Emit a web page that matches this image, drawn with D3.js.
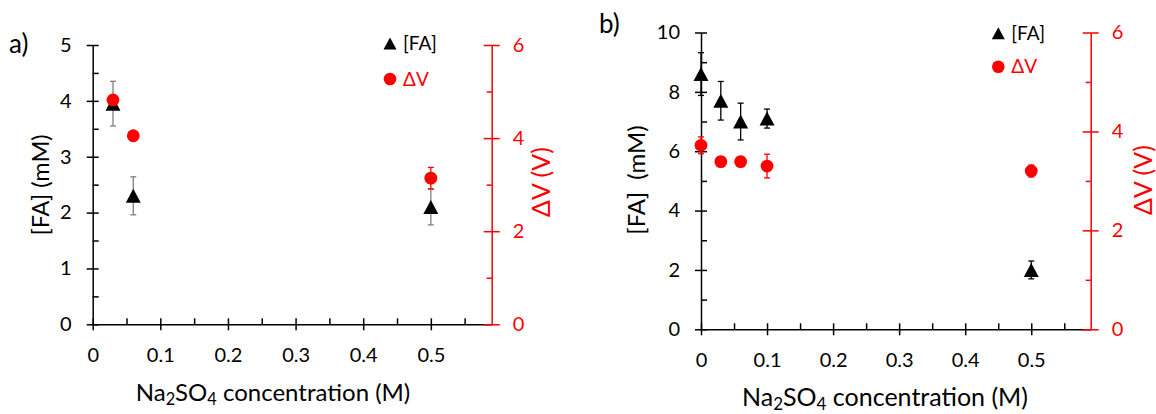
<!DOCTYPE html>
<html><head><meta charset="utf-8">
<script src="https://cdn.jsdelivr.net/npm/d3@7"></script>
<style>
body{margin:0;background:#fff;}
text{font-family:Lato, "Open Sans", sans-serif;}
</style></head>
<body><svg id="c" width="1156" height="414"></svg>
<script>
// ---- data ----
const xTickValues = [0, 0.1, 0.2, 0.3, 0.4, 0.5];
const xTickLabels = ["0", "0.1", "0.2", "0.3", "0.4", "0.5"];
const aLeftTicks = [0, 1, 2, 3, 4, 5];
const bLeftTicks = [0, 2, 4, 6, 8, 10];
const rightTicks = [0, 2, 4, 6];

const aConc = [0.03, 0.06, 0.5];
const aFA = [3.95, 2.3, 2.1];
const aFAerr = [0.4, 0.34, 0.32];
const aDV = [4.82, 4.05, 3.14];
const aDVerr = [0, 0, 0.23];

const bConc = [0, 0.03, 0.06, 0.1, 0.5];
const bFA = [8.6, 7.7, 7.0, 7.1, 2.0];
const bFAerr = [0.72, 0.65, 0.62, 0.32, 0.3];
const bDV = [3.72, 3.39, 3.39, 3.30, 3.20];
const bDVerr = [0.17, 0.1, 0.05, 0.24, 0.12];

const RED = "#ff0000";
const svg = d3.select("#c");
const triPath = "M0,-7L7.5,7L-7.5,7Z";
const fmt = d3.format("d");

function panel(o) {
  const g = svg.append("g");
  const x = d3.scaleLinear().domain([0, 0.59]).range([o.x0, o.x1]);
  const yL = d3.scaleLinear().domain([0, o.yLMax]).range([o.yb, o.yt]);
  const yR = d3.scaleLinear().domain([0, 6]).range([o.yb, o.yt]);

  const minorX = d3.range(0.05, 0.59, 0.1);
  const minorL = d3.range(o.yLMinorStep, o.yLMax, o.yLMinorStep * 2);
  const minorR = [1, 3, 5];

  // x axis
  const gx = g.append("g").attr("transform", `translate(0,${o.yb})`)
    .call(d3.axisBottom(x).tickValues(xTickValues).tickFormat((d, i) => xTickLabels[i])
      .tickSize(6).tickSizeOuter(0).tickPadding(18));
  gx.selectAll(".tick line").attr("y1", -6);
  g.append("g").attr("transform", `translate(0,${o.yb})`)
    .call(d3.axisBottom(x).tickValues(minorX).tickFormat("").tickSize(-6).tickSizeOuter(0))
    .select(".domain").remove();

  // left axis
  const gl = g.append("g").attr("transform", `translate(${o.x0},0)`)
    .call(d3.axisLeft(yL).tickValues(o.leftTicks).tickFormat(fmt).tickSize(6).tickSizeOuter(0).tickPadding(15));
  gl.selectAll(".tick line").attr("x1", 6);
  g.append("g").attr("transform", `translate(${o.x0},0)`)
    .call(d3.axisLeft(yL).tickValues(minorL).tickFormat("").tickSize(-6).tickSizeOuter(0))
    .select(".domain").remove();

  // right axis
  const gr = g.append("g").attr("transform", `translate(${o.x1},0)`)
    .call(d3.axisRight(yR).tickValues(rightTicks).tickFormat(fmt).tickSize(8).tickSizeOuter(0).tickPadding(13));
  gr.selectAll(".tick line").attr("x1", -8);
  const grm = g.append("g").attr("transform", `translate(${o.x1},0)`)
    .call(d3.axisRight(yR).tickValues(minorR).tickFormat("").tickSize(-5).tickSizeOuter(0));
  grm.select(".domain").remove();

  g.selectAll(".domain, .tick line").attr("stroke-width", 1.5).attr("stroke", "#000");
  gr.selectAll(".domain, .tick line").attr("stroke", RED);
  grm.selectAll(".tick line").attr("stroke", RED);
  g.selectAll(".tick text").attr("font-size", 20).attr("font-family", "Lato").attr("fill", "#000");
  gr.selectAll(".tick text").attr("fill", RED);

  const pts = o.conc.map((c, i) => ({c, v: o.fa[i], e: o.faErr[i], dv: o.dv[i], de: o.dvErr[i]}));
  const eb = (sel, yS, key, ekey, col) => {
    const gg = sel.append("g").attr("stroke", col).attr("stroke-width", 1.3);
    pts.filter(d => d[ekey] > 0).forEach(d => {
      const cx = x(d.c), t = yS(d[key] + d[ekey]), b = yS(d[key] - d[ekey]);
      gg.append("line").attr("x1", cx).attr("x2", cx).attr("y1", t).attr("y2", b);
      gg.append("line").attr("x1", cx - 3).attr("x2", cx + 3).attr("y1", t).attr("y2", t);
      gg.append("line").attr("x1", cx - 3).attr("x2", cx + 3).attr("y1", b).attr("y2", b);
    });
  };
  eb(g, yL, "v", "e", o.faErrColor);
  g.selectAll(".tri").data(pts).join("path").attr("class", "tri")
    .attr("d", triPath).attr("fill", "#000")
    .attr("transform", d => `translate(${x(d.c)},${yL(d.v)})`);
  eb(g, yR, "dv", "de", RED);
  g.selectAll(".dot").data(pts).join("circle").attr("class", "dot")
    .attr("cx", d => x(d.c)).attr("cy", d => yR(d.dv)).attr("r", 6.4).attr("fill", RED);

  // legend
  g.append("path").attr("d", "M0,-6L6.5,6L-6.5,6Z").attr("fill", "#000")
    .attr("transform", `translate(${o.legX},${o.legY1})`);
  g.append("text").attr("x", o.legX + 13).attr("y", o.legY1).attr("dy", "0.35em")
    .attr("font-size", 19).text("[FA]");
  g.append("circle").attr("cx", o.legX).attr("cy", o.legY2).attr("r", 6.3).attr("fill", RED);
  g.append("text").attr("x", o.legX + 13).attr("y", o.legY2).attr("dy", "0.35em")
    .attr("font-size", 19).attr("fill", RED).text("ΔV");

  // titles
  g.append("text").attr("transform", `translate(${o.ylx},${o.yly}) rotate(-90)`)
    .attr("text-anchor", "middle").attr("dy", "0.35em").attr("font-size", o.ytSize)
    .style("white-space", "pre").text(o.yTitle);
  g.append("text").attr("transform", `translate(${o.yrx},${o.yry}) rotate(-90)`)
    .attr("text-anchor", "middle").attr("dy", "0.35em").attr("font-size", 25)
    .attr("fill", RED).text("ΔV (V)");
  const xt = g.append("text").attr("x", o.xtx).attr("y", o.xty)
    .attr("text-anchor", "middle").attr("font-size", o.xtSize);
  xt.append("tspan").text("Na");
  xt.append("tspan").attr("dy", 4).attr("font-size", o.xtSize * 0.68).text("2");
  xt.append("tspan").attr("dy", -4).text("SO");
  xt.append("tspan").attr("dy", 4).attr("font-size", o.xtSize * 0.68).text("4");
  xt.append("tspan").attr("dy", -4).text(" concentration (M)");

  g.append("text").attr("x", o.lx).attr("y", o.ly).attr("font-size", 26).text(o.letter);
}

panel({
  x0: 92.7, x1: 491.7, yb: 324.3, yt: 45, yLMax: 5, yLMinorStep: 0.5, leftTicks: aLeftTicks,
  conc: aConc, fa: aFA, faErr: aFAerr, dv: aDV, dvErr: aDVerr, faErrColor: "#808080",
  legX: 390, legY1: 43.5, legY2: 79,
  ylx: 41, yly: 185, yTitle: "[FA] (mM)", ytSize: 23.5, yrx: 541, yry: 182,
  xtx: 273, xty: 401, xtSize: 24, lx: 9, ly: 53, letter: "a)"
});
panel({
  x0: 701, x1: 1090.7, yb: 329.3, yt: 32.5, yLMax: 10, yLMinorStep: 1, leftTicks: bLeftTicks,
  conc: bConc, fa: bFA, faErr: bFAerr, dv: bDV, dvErr: bDVerr, faErrColor: "#000",
  legX: 998.3, legY1: 33.3, legY2: 66.7,
  ylx: 636.5, yly: 180, yTitle: "[FA]  (mM)", ytSize: 24, yrx: 1143, yry: 180,
  xtx: 885, xty: 406, xtSize: 25, lx: 599, ly: 33, letter: "b)"
});
</script></body></html>
